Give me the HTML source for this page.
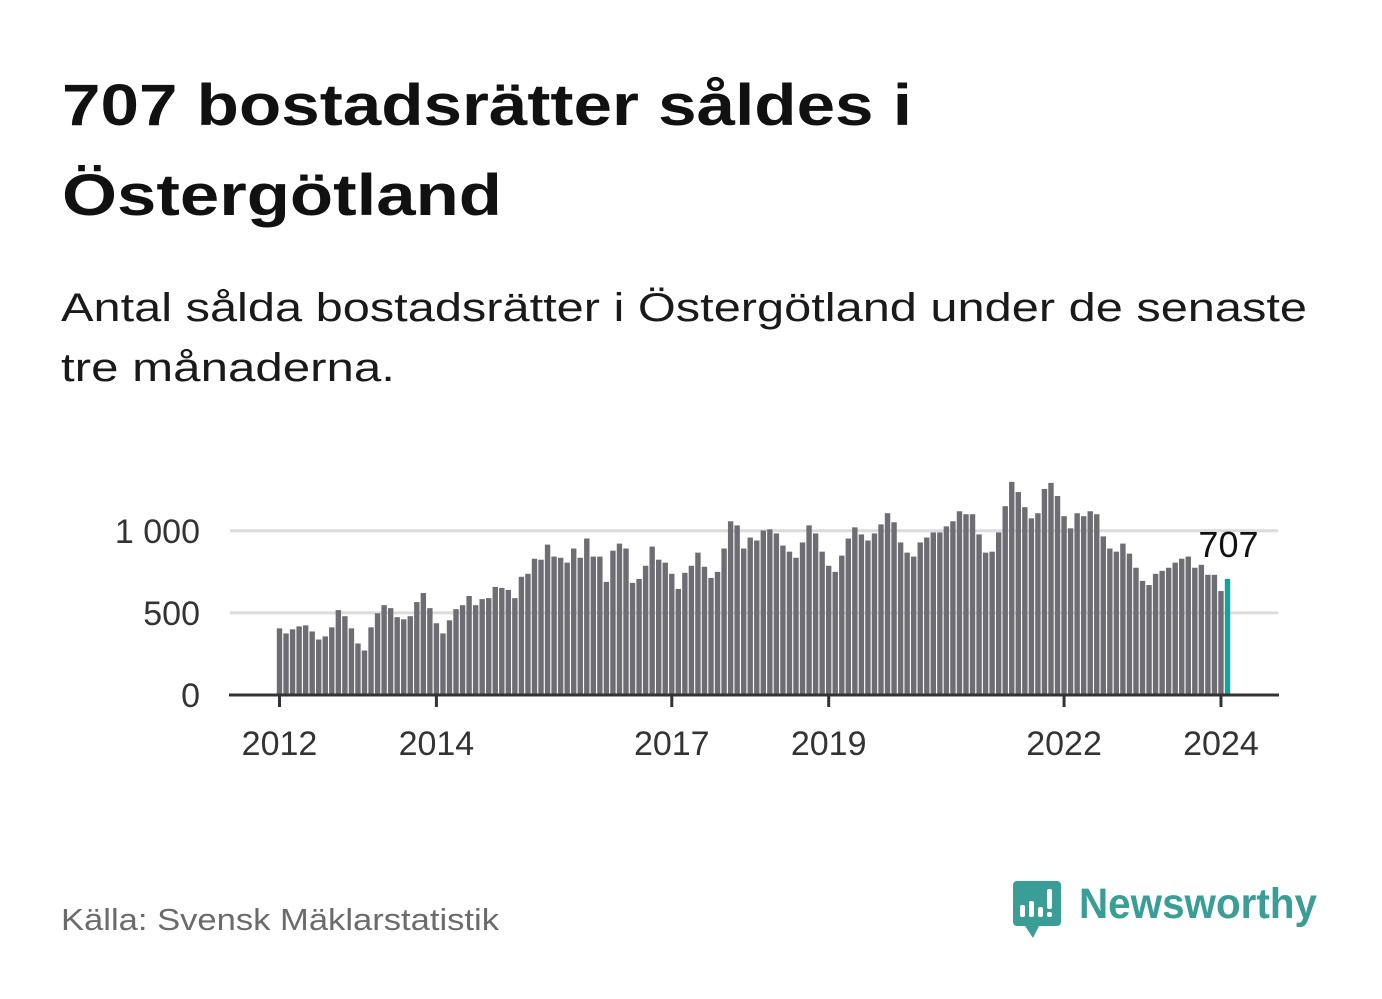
<!DOCTYPE html>
<html><head><meta charset="utf-8"><style>
html,body{margin:0;padding:0;background:#fff;}
svg{display:block;font-family:"Liberation Sans",sans-serif;}
</style></head><body>
<svg id="chart" width="1382" height="999" viewBox="0 0 1382 999">
<text x="62" y="125" font-size="58" font-weight="bold" fill="#111" textLength="850" lengthAdjust="spacingAndGlyphs">707 bostadsrätter såldes i</text>
<text x="62" y="215" font-size="58" font-weight="bold" fill="#111" textLength="440" lengthAdjust="spacingAndGlyphs">Östergötland</text>
<text x="61" y="321" font-size="40" fill="#1a1a1a" textLength="1246" lengthAdjust="spacingAndGlyphs">Antal sålda bostadsrätter i Östergötland under de senaste</text>
<text x="61" y="381" font-size="40" fill="#1a1a1a" textLength="334" lengthAdjust="spacingAndGlyphs">tre månaderna.</text>
<g id="grid"></g><g id="bars"></g><g id="axes"></g>
<text x="61" y="930" font-size="31" fill="#6b6b6b" textLength="438" lengthAdjust="spacingAndGlyphs">Källa: Svensk Mäklarstatistik</text>
<g>
<path d="M1017 881 h40 a4 4 0 0 1 4 4 v37 a4 4 0 0 1 -4 4 h-18 l-6 12 l-8 -12 h-8 a4 4 0 0 1 -4 -4 v-37 a4 4 0 0 1 4 -4z" fill="#3a9e96"/>
<rect x="1020" y="905" width="5" height="12" rx="2" fill="#fff"/>
<rect x="1029" y="901" width="5" height="16" rx="2" fill="#fff"/>
<rect x="1038" y="907" width="5" height="10" rx="2" fill="#fff"/>
<rect x="1047" y="889" width="5" height="20" rx="2" fill="#fff"/>
<rect x="1047" y="912" width="5" height="5" rx="2" fill="#fff"/>
<text x="1079" y="918" font-size="43" font-weight="bold" fill="#3a9e96" textLength="238" lengthAdjust="spacingAndGlyphs">Newsworthy</text>
</g>
</svg>
<script>
const values = [406,375,400,418,424,387,338,357,412,517,480,406,314,271,412,498,547,529,474,461,480,566,621,529,437,375,455,523,547,603,547,584,590,658,652,640,590,720,738,830,824,916,843,836,806,892,836,953,843,
843,689,879,922,892,683,707,787,904,824,806,738,646,744,787,867,781,713,750,892,1058,1033,892,959,941,1002,1009,984,910,873,836,929,1033,984,873,787,750,849,953,1021,978,941,984,1039,1107,1052,929,867,843,929,
959,990,990,1027,1058,1119,1101,1101,978,867,873,990,1150,1298,1236,1144,1076,1107,1255,1292,1212,1089,1015,1107,1089,1119,1101,966,892,873,922,861,775,695,670,738,756,775,806,830,843,775,793,732,732,633,707];
const yTicks = [0,500,1000];
const yTickLabels = ["0","500","1 000"];
const xTickIdx = [0,24,60,84,120,144];
const xTickLabels = ["2012","2014","2017","2019","2022","2024"];
const lastLabel = "707";
const NS="http://www.w3.org/2000/svg";
const x0=279.5, step=6.538, y0=695, ppu=0.1642;
const X=i=>x0+i*step, Y=v=>y0-v*ppu;
function mk(tag,attrs,parent){const e=document.createElementNS(NS,tag);for(const k in attrs)e.setAttribute(k,attrs[k]);parent.appendChild(e);return e;}
const grid=document.getElementById('grid'),bars=document.getElementById('bars'),axes=document.getElementById('axes');
yTicks.forEach((v,i)=>{
  if(v>0){const l=mk('line',{x1:230,x2:1278,y1:Y(v),y2:Y(v),stroke:'#dcdcdc','stroke-width':3},grid);
  
  }
  const t=mk('text',{x:200,y:Y(v)+12,'font-size':34,fill:'#333','text-anchor':'end'},grid);
  t.textContent=yTickLabels[i];
  
  
});
values.forEach((v,i)=>{
  const last=i===values.length-1;
  const r=mk('rect',{x:X(i)-2.7,y:Y(v),width:5.4,height:v*ppu,fill:last?'#12a39a':'#6e6d73'},bars);
  
  
});
const lv=mk('text',{x:X(values.length-1)+31,y:Y(values[values.length-1])-22,'font-size':36,fill:'#111','text-anchor':'end'},bars);
lv.textContent=lastLabel;


const ax=mk('line',{x1:229,x2:1279,y1:y0,y2:y0,stroke:'#333','stroke-width':3},axes);


xTickIdx.forEach((idx,i)=>{
  const tk=mk('line',{x1:X(idx),x2:X(idx),y1:y0,y2:y0+12,stroke:'#333','stroke-width':3},axes);
  
  
  const t=mk('text',{x:X(idx),y:755,'font-size':34,fill:'#333','text-anchor':'middle'},axes);
  t.textContent=xTickLabels[i];
  
  
});
</script>
</body></html>
